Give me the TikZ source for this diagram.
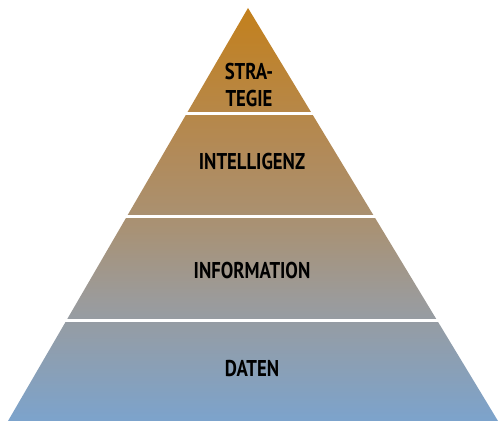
\documentclass[tikz,border=0pt]{standalone}
\usepackage{fontspec}
\setmainfont[FakeStretch=0.82]{PT Sans}
\usepackage{xcolor}
\usetikzlibrary{calc}
\definecolor{pyrtop}{RGB}{195,128,28}
\definecolor{pyrbrown}{RGB}{178,138,88}
\definecolor{pyrtan}{RGB}{168,146,118}
\definecolor{pyrgray}{RGB}{155,155,155}
\definecolor{pyrbot}{RGB}{124,163,204}
\pgfdeclareverticalshading{pyramid}{100bp}{color(0bp)=(pyrbot); color(25bp)=(pyrbot);
  color(39.6bp)=(pyrgray); color(48.1bp)=(pyrtan); color(57.8bp)=(pyrbrown);
  color(75bp)=(pyrtop); color(100bp)=(pyrtop)}

\begin{document}
\begin{tikzpicture}[x=0.02cm, y=-0.02cm,
    layer/.style={font=\bfseries\fontsize{13}{15}\selectfont, align=center, text=black}]
      \useasboundingbox (0, 0) rectangle (500, 421);

      \coordinate (apex) at (248, 8);
      \coordinate (baseL) at (8, 421);
      \coordinate (baseR) at (498, 421);
      \shade[shading=pyramid] (apex) -- (baseL) -- (baseR) -- cycle;

      % white gaps between the layers
      \foreach \y in {113.5, 216.5, 320.5}
        \draw[white, line width=1.7pt] (0, \y) -- (500, \y);

      \node[layer] (strategie) at (249, 85) {STRA-\\TEGIE};
      \node[layer] (intelligenz) at (252, 162) {INTELLIGENZ};
      \node[layer] (information) at (252, 271) {INFORMATION};
      \node[layer] (daten) at (252, 369) {DATEN};

    \end{tikzpicture}
\end{document}
